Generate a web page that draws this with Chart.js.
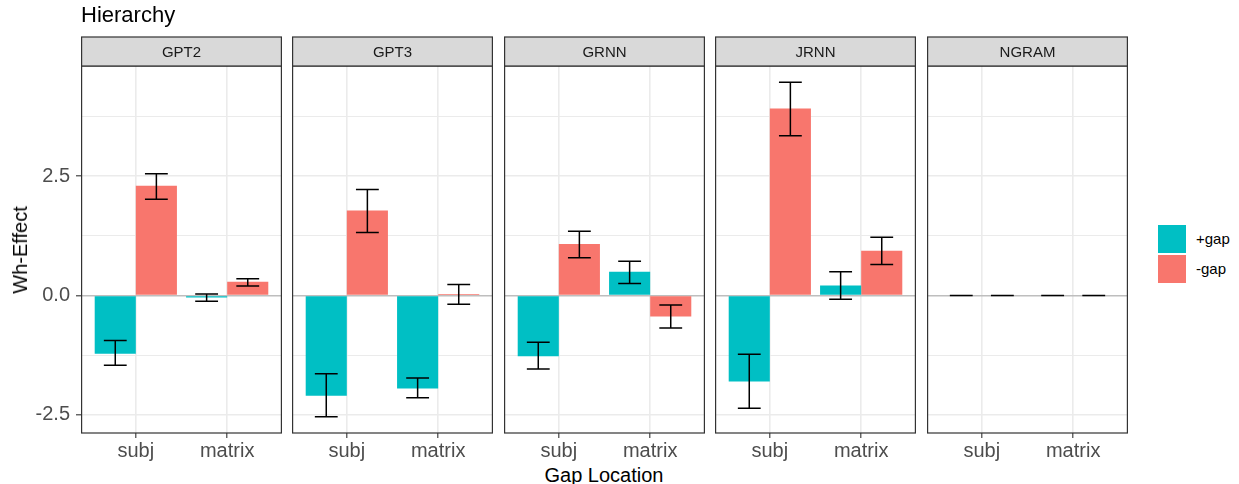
<!DOCTYPE html>
<html>
<head>
<meta charset="utf-8">
<script src="https://cdn.jsdelivr.net/npm/chart.js@4.4.1/dist/chart.umd.min.js"></script>
<style>
  html, body { margin: 0; padding: 0; background: #fff; }
  #wrap { position: relative; width: 1239px; height: 484px; overflow: hidden; font-family: "Liberation Sans", Arial, sans-serif; }
  #wrap canvas { position: absolute; top: 0; }
  .txt { position: absolute; white-space: nowrap; line-height: 1; }
  #title { left: 81px; top: 4px; font-size: 22px; color: #000; }
  #xtitle { left: 604px; top: 465px; font-size: 20px; color: #000; transform: translateX(-50%); }
  #ytitle { left: 20px; top: 250px; font-size: 20px; color: #000; transform: translate(-50%, -50%) rotate(-90deg); }
  .key { position: absolute; left: 1158px; width: 28px; height: 28px; }
  .klab { position: absolute; left: 1196px; font-size: 15px; color: #000; line-height: 28px; }
</style>
</head>
<body>
<div id="wrap">
  <canvas id="p0" width="282" height="462" style="left:0px"></canvas>
  <canvas id="p1" width="201" height="462" style="left:292px"></canvas>
  <canvas id="p2" width="201" height="462" style="left:504px"></canvas>
  <canvas id="p3" width="201" height="462" style="left:715px"></canvas>
  <canvas id="p4" width="201" height="462" style="left:927px"></canvas>
  <div class="txt" id="title">Hierarchy</div>
  <div class="txt" id="xtitle">Gap Location</div>
  <div class="txt" id="ytitle">Wh-Effect</div>
  <div class="key" style="top:225px;background:#00BFC4"></div>
  <div class="klab" style="top:225px">+gap</div>
  <div class="key" style="top:255px;background:#F8766D"></div>
  <div class="klab" style="top:255px">-gap</div>
</div>
<script>
// modelos (una faceta por modelo) y posiciones del hueco
const modelos = ['GPT2', 'GPT3', 'GRNN', 'JRNN', 'NGRAM'];
const posiciones = ['subj', 'matrix'];
const series = ['+gap', '-gap'];

// medias y extremos de las barras de error, [subj, matrix] por modelo
const mediaMasGap  = [[-1.22, -0.04], [-2.10, -1.95], [-1.27, 0.50], [-1.80, 0.21], [0, 0]];
const bajoMasGap   = [[-1.46, -0.12], [-2.54, -2.14], [-1.54, 0.25], [-2.36, -0.08], [0, 0]];
const altoMasGap   = [[-0.94, 0.03], [-1.64, -1.73], [-0.98, 0.72], [-1.23, 0.50], [0, 0]];

const mediaMenosGap = [[2.30, 0.29], [1.78, 0.03], [1.08, -0.44], [3.92, 0.94], [0, 0]];
const bajoMenosGap  = [[2.02, 0.20], [1.32, -0.18], [0.79, -0.68], [3.35, 0.65], [0, 0]];
const altoMenosGap  = [[2.55, 0.35], [2.22, 0.23], [1.35, -0.20], [4.47, 1.22], [0, 0]];

const ticksY = [-2.5, 0, 2.5];
const ticksYMenores = [-1.25, 1.25, 3.75];

const colores = ['#00BFC4', '#F8766D'];
const FUENTE = '"Liberation Sans", Arial, sans-serif';
const ALTO_CANVAS = 462;
const BORDE_INF = 433;

Chart.defaults.font.family = FUENTE;
Chart.defaults.animation = false;

// barras de error con bigotes
const barrasError = {
    id: 'barrasError',
    afterDatasetsDraw(chart) {
        const ctx = chart.ctx;
        const x = chart.scales.x, y = chart.scales.y;
        const medio = (x.getPixelForValue(1.125) - x.getPixelForValue(1));
        ctx.save();
        ctx.strokeStyle = '#000';
        ctx.lineWidth = 1.5;
        chart.data.datasets.forEach((ds, i) => {
            const meta = chart.getDatasetMeta(i);
            meta.data.forEach((bar, j) => {
                const y1 = y.getPixelForValue(ds.errBajo[j]);
                const y2 = y.getPixelForValue(ds.errAlto[j]);
                ctx.beginPath();
                ctx.moveTo(bar.x, y1); ctx.lineTo(bar.x, y2);
                ctx.moveTo(bar.x - medio, y1); ctx.lineTo(bar.x + medio, y1);
                ctx.moveTo(bar.x - medio, y2); ctx.lineTo(bar.x + medio, y2);
                ctx.stroke();
            });
        });
        ctx.restore();
    }
};

// marco del panel y cabecera gris con el nombre del modelo
const marcoPanel = {
    id: 'marcoPanel',
    afterDraw(chart, args, opts) {
        const ctx = chart.ctx;
        const a = chart.chartArea;
        ctx.save();
        ctx.strokeStyle = '#333333';
        ctx.lineWidth = 1.2;
        ctx.strokeRect(a.left + 0.6, a.top, a.right - a.left - 1.2, a.bottom - a.top);
        ctx.fillStyle = '#D9D9D9';
        ctx.fillRect(a.left + 0.6, 37, a.right - a.left - 1.2, a.top - 37);
        ctx.strokeRect(a.left + 0.6, 37, a.right - a.left - 1.2, a.top - 37);
        ctx.fillStyle = '#1A1A1A';
        ctx.font = '15px ' + FUENTE;
        ctx.textAlign = 'center';
        ctx.textBaseline = 'middle';
        ctx.fillText(opts.texto, (a.left + a.right) / 2, (37 + a.top) / 2 + 1);
        ctx.restore();
    }
};

function crearPanel(k) {
    const conEje = k === 0;
    const ctx = document.getElementById('p' + k).getContext('2d');
    const medias = [mediaMasGap[k], mediaMenosGap[k]];
    const bajos = [bajoMasGap[k], bajoMenosGap[k]];
    const altos = [altoMasGap[k], altoMenosGap[k]];

    return new Chart(ctx, {
        type: 'bar',
        data: {
            datasets: series.map((s, i) => ({
                label: s,
                data: posiciones.map((p, j) => ({ x: j + 1, y: medias[i][j] })),
                errBajo: bajos[i],
                errAlto: altos[i],
                backgroundColor: colores[i],
                borderWidth: 0,
                categoryPercentage: 0.9,
                barPercentage: 1.0
            }))
        },
        options: {
            responsive: false,
            layout: { padding: { top: 66, left: 0, right: 0, bottom: 0 } },
            plugins: {
                legend: { display: false },
                tooltip: { enabled: false },
                marcoPanel: { texto: modelos[k] }
            },
            scales: {
                x: {
                    type: 'linear',
                    min: 0.4,
                    max: 2.6,
                    offset: false,
                    afterBuildTicks: s => { s.ticks = [{ value: 1 }, { value: 2 }]; },
                    afterFit: s => { s.height = ALTO_CANVAS - BORDE_INF; },
                    ticks: {
                        callback: v => posiciones[v - 1],
                        color: '#4D4D4D',
                        font: { size: 20 },
                        padding: 1,
                        maxRotation: 0
                    },
                    grid: {
                        offset: false,
                        color: '#EBEBEB',
                        lineWidth: 1.6,
                        tickColor: '#333333',
                        tickWidth: 1.1,
                        tickLength: 5
                    },
                    border: { display: false }
                },
                y: {
                    min: -2.88,
                    max: 4.81,
                    afterBuildTicks: s => {
                        s.ticks = ticksY.concat(ticksYMenores).sort((a, b) => a - b).map(v => ({ value: v }));
                    },
                    afterFit: s => { s.width = conEje ? 81 : 0; },
                    ticks: {
                        display: conEje,
                        callback: v => ticksY.includes(v) ? v.toFixed(1) : '',
                        color: '#4D4D4D',
                        font: { size: 20 },
                        padding: 6
                    },
                    grid: {
                        color: c => (c.tick && c.tick.value === 0) ? '#BEBEBE' : '#EBEBEB',
                        lineWidth: c => (c.tick && ticksYMenores.includes(c.tick.value)) ? 1 : 1.6,
                        drawTicks: conEje,
                        tickLength: 5,
                        tickWidth: 1.1,
                        tickColor: c => (c.tick && ticksY.includes(c.tick.value)) ? '#333333' : 'rgba(0,0,0,0)'
                    },
                    border: { display: false }
                }
            }
        },
        plugins: [barrasError, marcoPanel]
    });
}

modelos.forEach((m, k) => crearPanel(k));
</script>
</body>
</html>
